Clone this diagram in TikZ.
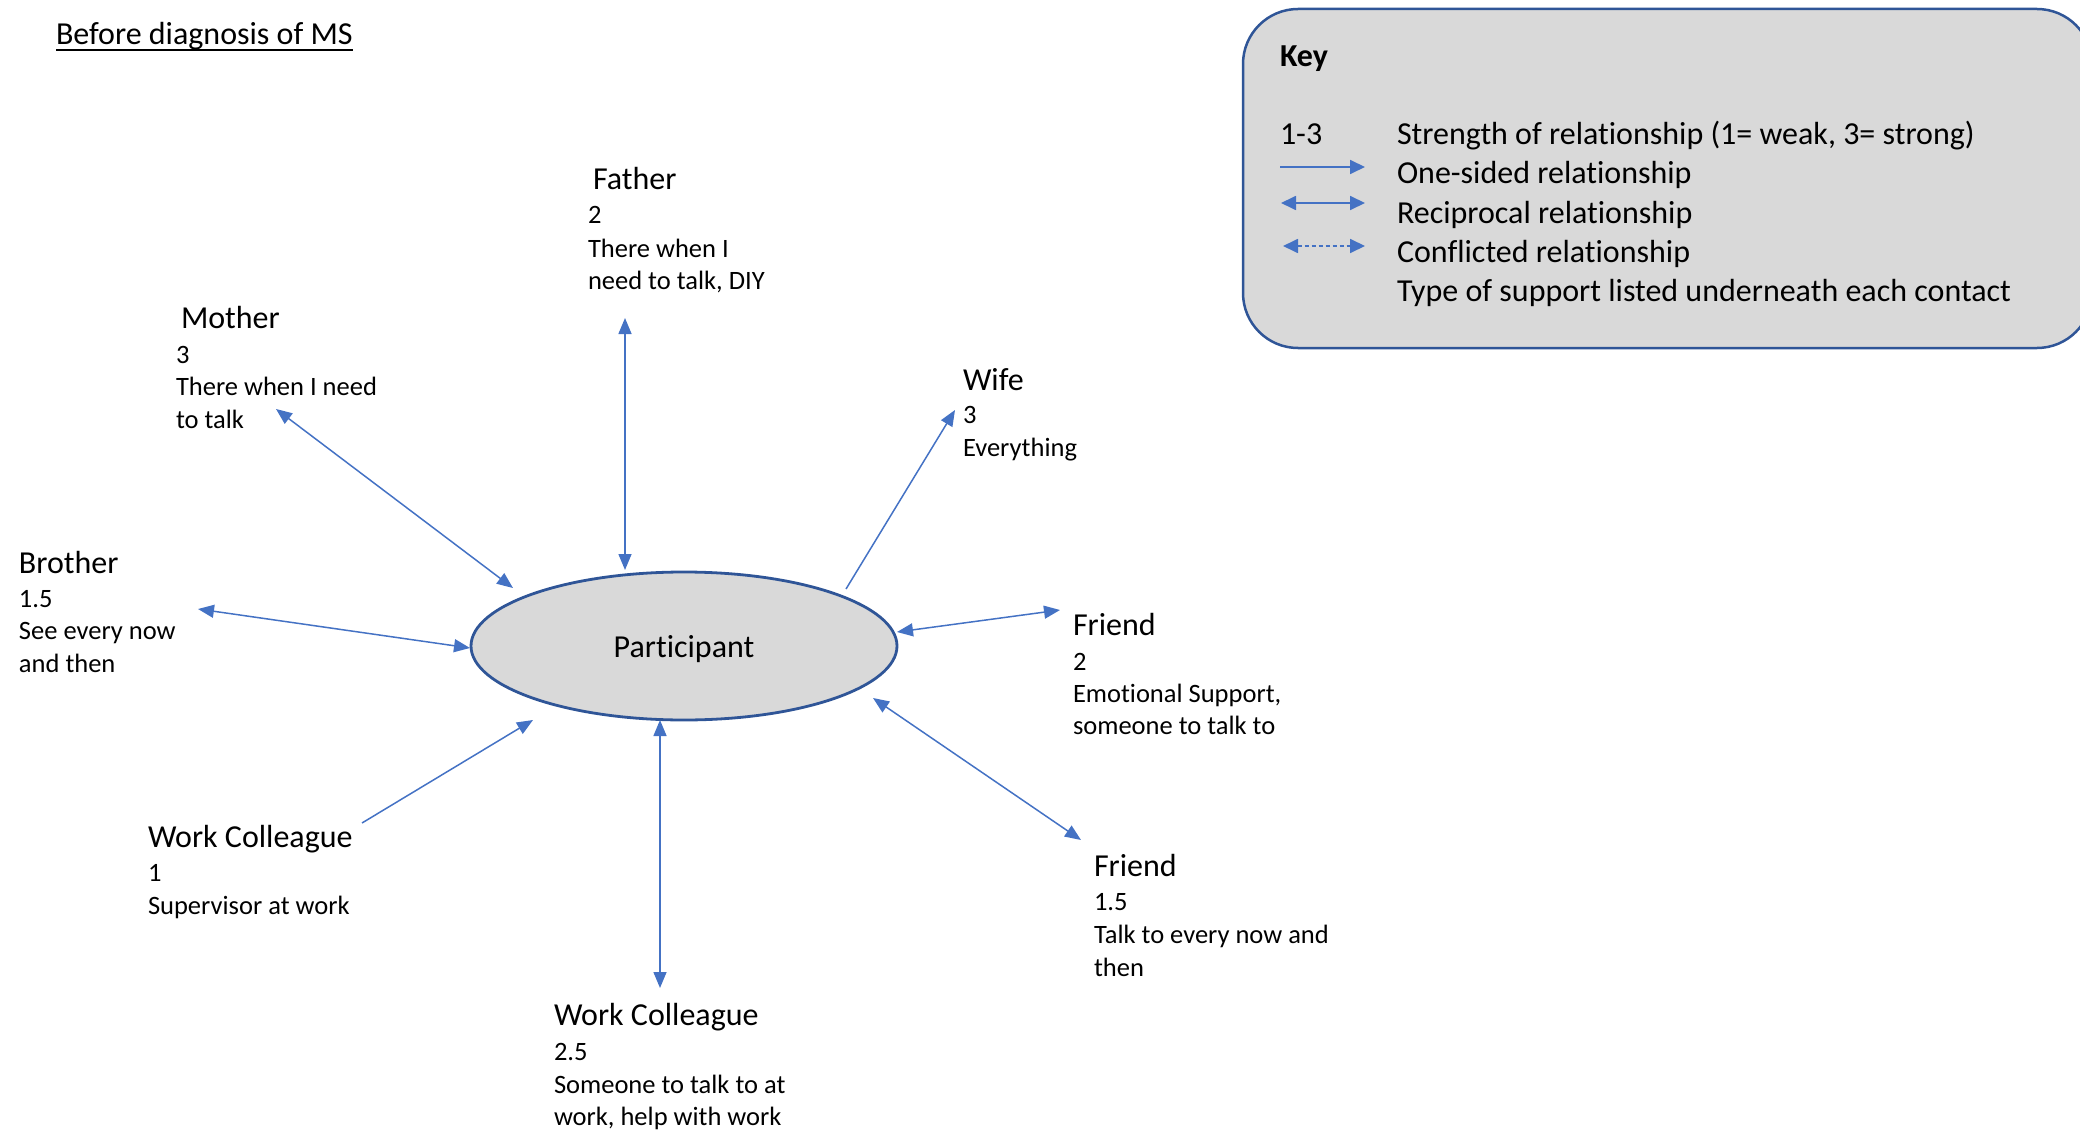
\documentclass[tikz,border=0pt]{standalone}
\usepackage{fontspec}
\setmainfont{Carlito}[Ligatures={NoCommon}]
\usetikzlibrary{arrows.meta,shapes.geometric}
\definecolor{arrowblue}{HTML}{4472C4}
\definecolor{edgeblue}{HTML}{2F5597}
\definecolor{boxgray}{HTML}{D9D9D9}
\begin{document}
\begin{tikzpicture}[x=1pt,y=-1pt,
  lbl/.style={anchor=base west, inner sep=0pt, outer sep=0pt},
  nm/.style={lbl, font=\fontsize{32}{38}\selectfont},
  ds/.style={lbl, font=\fontsize{26.5}{32}\selectfont},
  tipx/.tip={Triangle[length=16pt,width=13pt]},
  onesided/.style={draw=arrowblue, line width=1.5pt, -tipx},
  recip/.style={draw=arrowblue, line width=1.5pt, tipx-tipx},
  keyone/.style={draw=arrowblue, line width=1.8pt, -{Triangle[length=15pt,width=14pt]}},
  keyrecip/.style={draw=arrowblue, line width=1.8pt, {Triangle[length=15pt,width=14pt]}-{Triangle[length=15pt,width=14pt]}},
  keyconf/.style={draw=arrowblue, line width=1.8pt, dash pattern=on 4pt off 3pt, {Triangle[length=15pt,width=14pt]}-{Triangle[length=15pt,width=14pt]}}
]
\useasboundingbox (0,0) rectangle (2080,1134);
\clip (0,0) rectangle (2080,1134);

% title
\node[nm] (title) at (56,45) {Before diagnosis of MS};
\draw[line width=2.5pt] ([yshift=-5pt]title.base west) -- ([yshift=-5pt]title.base east);

% key box
\draw[edgeblue, fill=boxgray, line width=2.5pt, rounded corners=55pt] (1243,9) rectangle (2092,348);
\node[nm, font=\fontsize{32}{38}\selectfont\bfseries] (keyhead) at (1280,67) {Key};
\node[nm] (k13) at (1280,145) {1-3};
\node[nm] (kt1) at (1397,145) {Strength of relationship (1= weak, 3= strong)};
\node[nm] (kt2) at (1397,184) {One-sided relationship};
\node[nm] (kt3) at (1397,223) {Reciprocal relationship};
\node[nm] (kt4) at (1397,262) {Conflicted relationship};
\node[nm] (kt5) at (1397,301) {Type of support listed underneath each contact};
\coordinate (ka1) at (1280,167);
\coordinate (kb1) at (1365,167);
\coordinate (ka2) at (1281,203);
\coordinate (kb2) at (1365,203);
\coordinate (ka3) at (1283,246);
\coordinate (kb3) at (1365,246);
\draw[keyone] (ka1) -- (kb1);
\draw[keyrecip] (ka2) -- (kb2);
\draw[keyconf] (ka3) -- (kb3);

% participant
\node[draw=edgeblue, fill=boxgray, line width=2.8pt, ellipse, minimum width=426pt, minimum height=148pt, inner sep=0pt] (part) at (684,646) {};
\node[font=\fontsize{32}{38}\selectfont, anchor=base, inner sep=0pt] (partlbl) at (684,657) {Participant};

% Father
\node[nm] (faN) at (593,190) {Father};
\node[ds] (fa1) at (588,224) {2};
\node[ds] (fa2) at (588,257) {There when I};
\node[ds] (fa3) at (588,289) {need to talk, DIY};
% Mother
\node[nm] (moN) at (181,328) {Mother};
\node[ds] (mo1) at (176,363) {3};
\node[ds] (mo2) at (176,395) {There when I need};
\node[ds] (mo3) at (176,428) {to talk};
% Wife
\node[nm] (wiN) at (963,390) {Wife};
\node[ds] (wi1) at (963,423) {3};
\node[ds] (wi2) at (963,456) {Everything};
% Brother
\node[nm] (brN) at (19,573) {Brother};
\node[ds] (br1) at (19,607) {1.5};
\node[ds] (br2) at (19,639) {See every now};
\node[ds] (br3) at (19,672) {and then};
% Friend
\node[nm] (frN) at (1073,635) {Friend};
\node[ds] (fr1) at (1073,670) {2};
\node[ds] (fr2) at (1073,702) {Emotional Support,};
\node[ds] (fr3) at (1073,734) {someone to talk to};
% Work colleague (left)
\node[nm] (wlN) at (148,847) {Work Colleague};
\node[ds] (wl1) at (148,881) {1};
\node[ds] (wl2) at (148,914) {Supervisor at work};
% Friend (lower)
\node[nm] (flN) at (1094,876) {Friend};
\node[ds] (fl1) at (1094,910) {1.5};
\node[ds] (fl2) at (1094,943) {Talk to every now and};
\node[ds] (fl3) at (1094,976) {then};
% Work colleague (bottom)
\node[nm] (wbN) at (554,1025) {Work Colleague};
\node[ds] (wb1) at (554,1060) {2.5};
\node[ds] (wb2) at (554,1093) {Someone to talk to at};
\node[ds] (wb3) at (554,1125) {work, help with work};

% connector end points
\coordinate (faO) at (625,318);   \coordinate (faI) at (625,570);
\coordinate (moO) at (276,409);   \coordinate (moI) at (513,588);
\coordinate (wiO) at (955,410);   \coordinate (wiI) at (846,589);
\coordinate (brO) at (198,609);   \coordinate (brI) at (470,648);
\coordinate (frO) at (1060,610);  \coordinate (frI) at (897,632);
\coordinate (flO) at (1081,840);  \coordinate (flI) at (873,698);
\coordinate (wbO) at (660,988);   \coordinate (wbI) at (660,720);
\coordinate (wlO) at (362,823);   \coordinate (wlI) at (533,720);

\draw[recip] (faO) -- (faI);
\draw[recip] (moO) -- (moI);
\draw[onesided] (wiI) -- (wiO);
\draw[recip] (brO) -- (brI);
\draw[recip] (frO) -- (frI);
\draw[recip] (flO) -- (flI);
\draw[recip] (wbO) -- (wbI);
\draw[onesided] (wlO) -- (wlI);
\end{tikzpicture}
\end{document}
